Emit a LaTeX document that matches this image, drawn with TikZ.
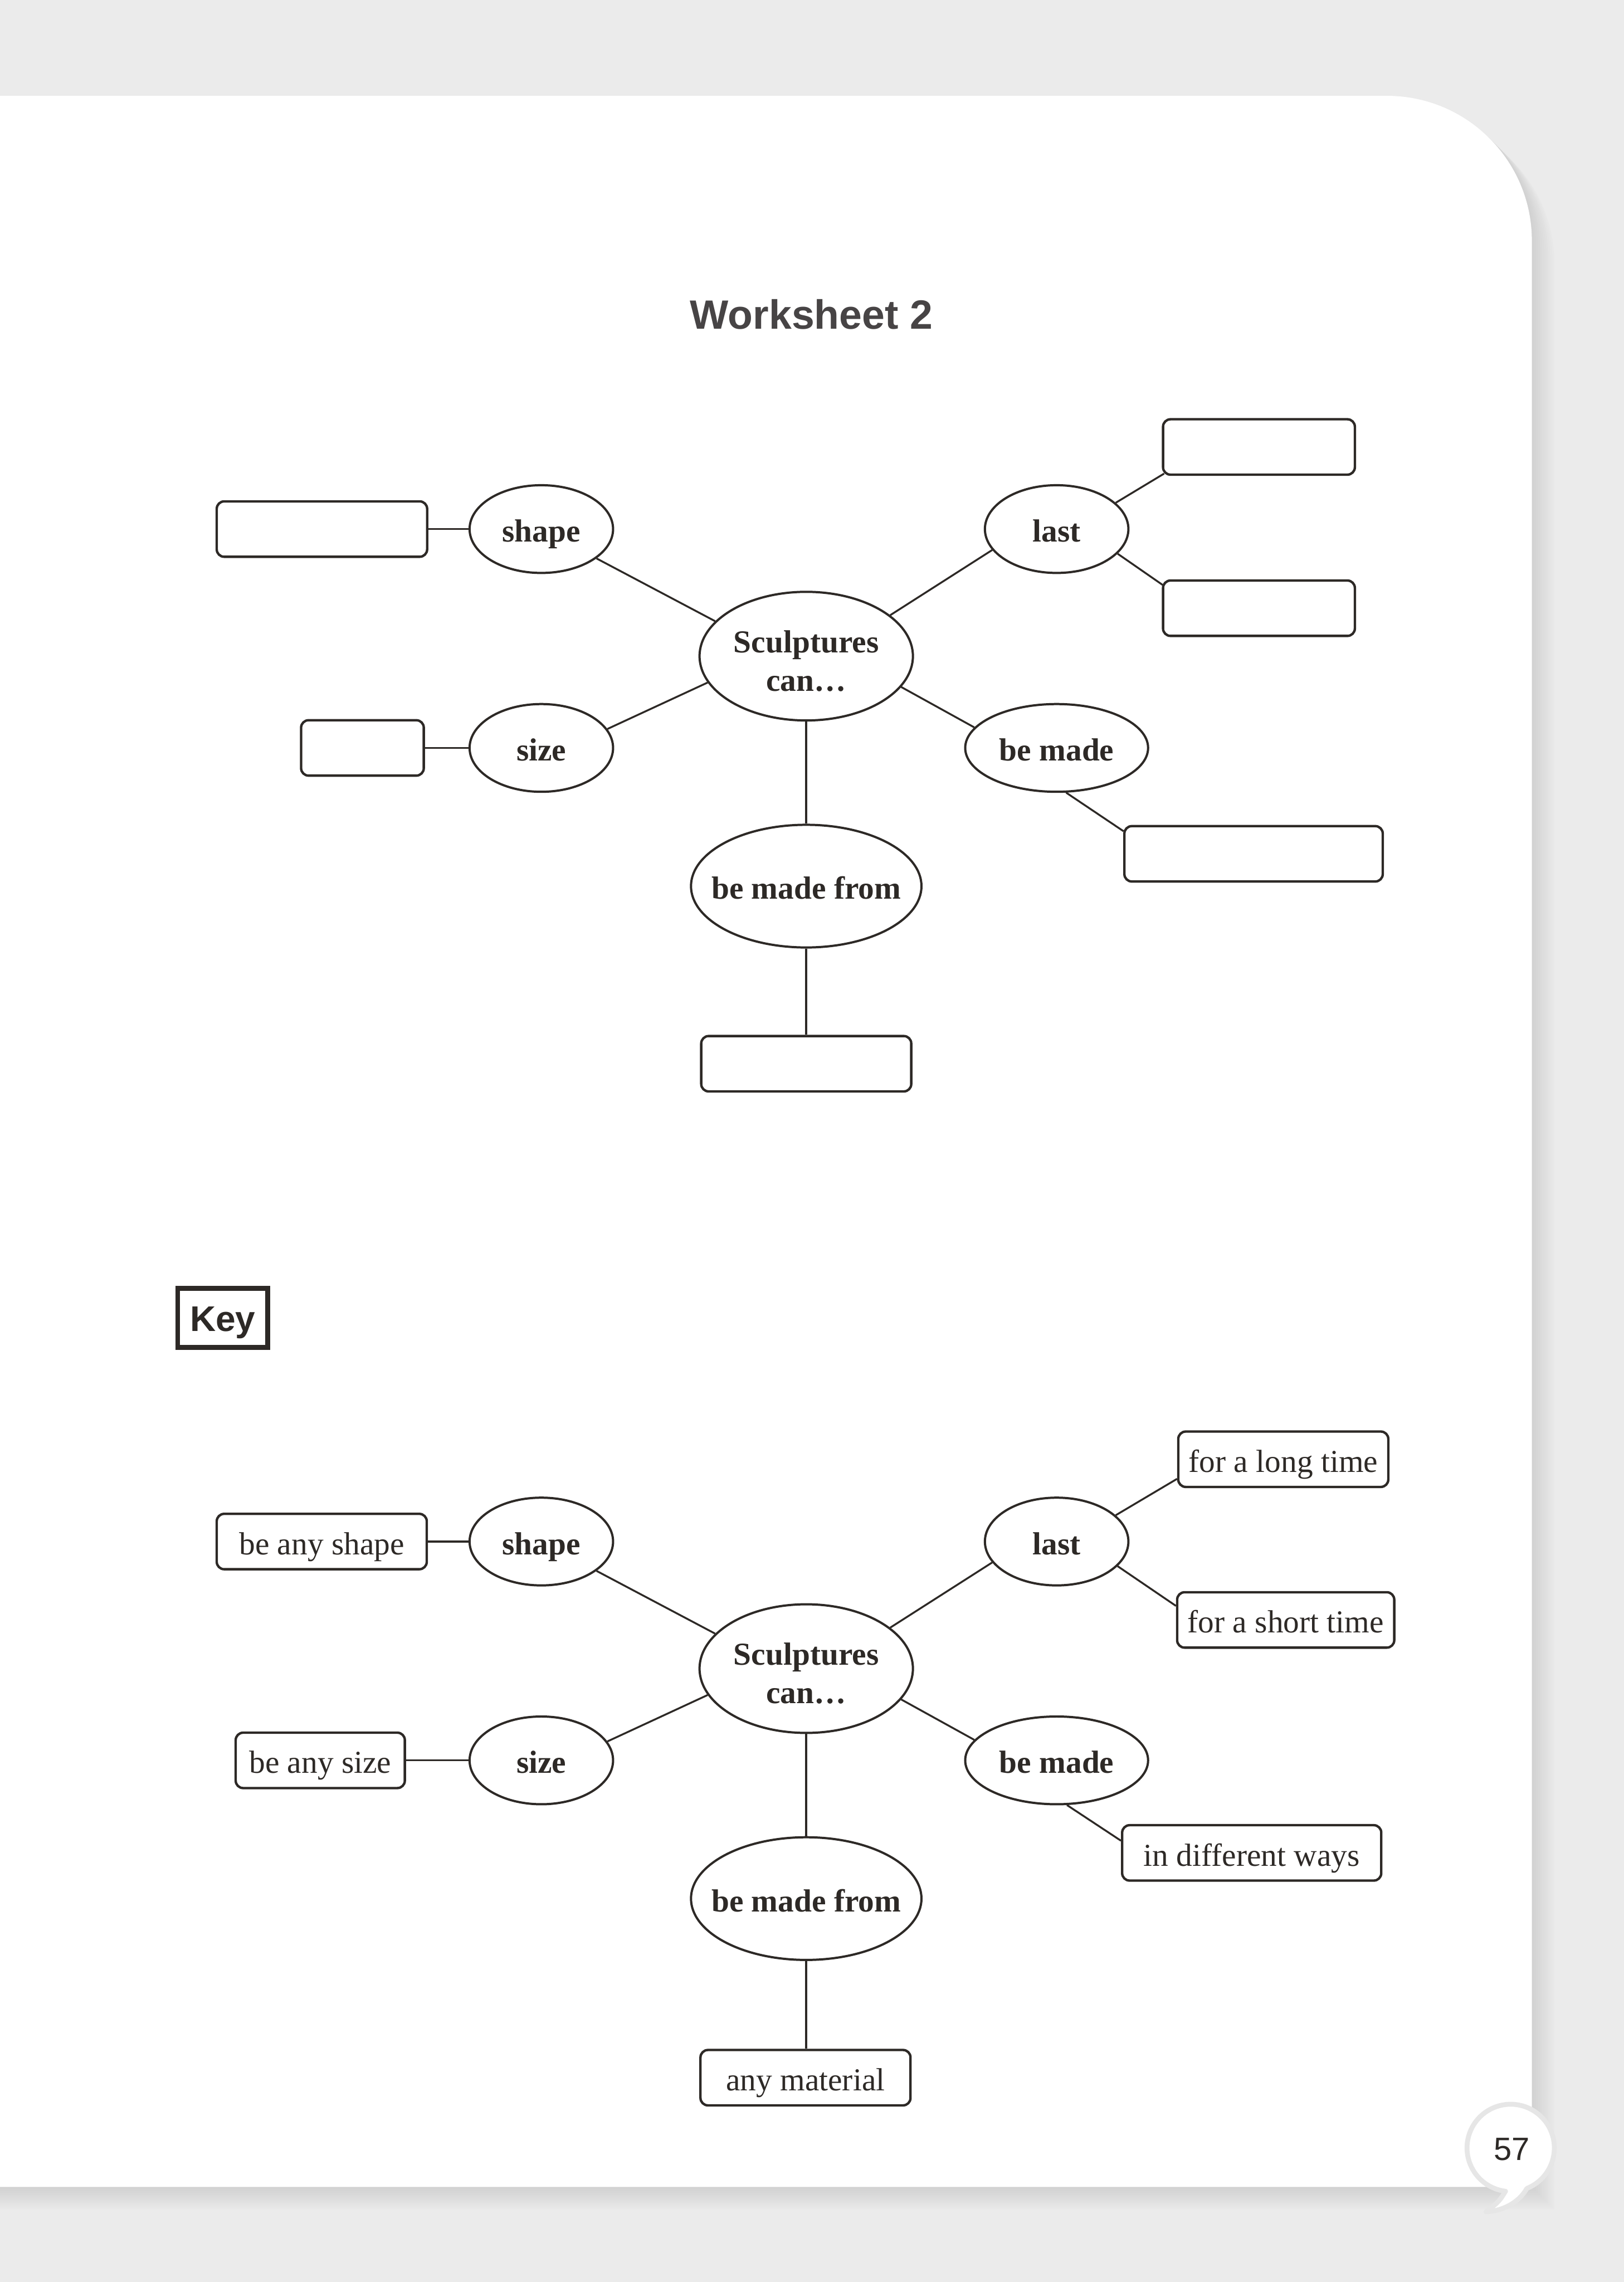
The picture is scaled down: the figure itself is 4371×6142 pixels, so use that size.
\documentclass[tikz,border=0pt]{standalone}
\usepackage{fontspec}
\setmainfont{Liberation Serif}
\newfontfamily\sansfont{Liberation Sans}
\usetikzlibrary{shapes.geometric,calc}
\definecolor{ink}{HTML}{2D2926}
\definecolor{pagebg}{HTML}{EBEBEB}
\definecolor{titlegray}{HTML}{474445}
\definecolor{bubblegray}{HTML}{E6E6E6}
\newcommand\nodesize{\fontsize{24.47pt}{29.5pt}\selectfont}
\begin{document}
\begin{tikzpicture}[x=0.01cm,y=-0.01cm,
  ell/.style={ellipse, draw=ink, line width=1.7pt, fill=white, inner sep=0pt,
    text=ink, font=\nodesize\bfseries, text height=21pt, text depth=1.2pt},
  smallell/.style={ell, minimum width=3.86cm, minimum height=2.36cm},
  bigell/.style={ell, minimum width=6.20cm, minimum height=3.30cm, inner xsep=-14pt},
  box/.style={rectangle, rounded corners=0.2cm, draw=ink, line width=1.85pt,
    fill=white, inner sep=0pt, minimum height=1.49cm, text=ink,
    font=\nodesize, text height=21pt, text depth=1.2pt},
  link/.style={draw=ink, line width=1.42pt},
]
\useasboundingbox (0,0) rectangle (4371,6142);
\clip (0,0) rectangle (4371,6142);
% background and page
\fill[pagebg] (0,0) rectangle (4371,6142);
\foreach \k in {12,...,1}{
  \pgfmathtruncatemacro\g{210+(\k-1)*25/11}
  \fill[fill={rgb,255:red,\g;green,\g;blue,\g}, shift={(\k*5.5,\k*5.5)}]
    (-100,258) -- (3733,258) arc[start angle=-90, end angle=0, radius=390]
    -- (4123,5886) -- (-100,5886) -- cycle;
}
\fill[white] (-100,258) -- (3733,258) arc[start angle=-90, end angle=0, radius=390]
    -- (4123,5886) -- (-100,5886) -- cycle;
% page number bubble
\path[fill=white, draw=bubblegray, line width=0.13cm, line join=round]
  (4066,5781) ++(68.2:117.5) arc[start angle=68.2, end angle=-263.2, radius=117.5]
  .. controls (4035,5925) .. (4000,5953)
  .. controls (4050,5950) and (4090,5925) .. (4109.6,5890.1) -- cycle;
\node[anchor=base, font=\sansfont\fontsize{24.7pt}{30pt}\selectfont, text=ink] (pagenum) at (4069,5814) {57};
% title
\node[anchor=base, font=\sansfont\bfseries\fontsize{31.3pt}{36pt}\selectfont, text=titlegray] (title) at (2184,885) {Worksheet 2};

% ---------------- worksheet diagram ----------------
\node[ell, minimum width=5.74cm, minimum height=3.46cm, text height=53.6pt, text depth=0pt] (c) at (2170,1766)
  {\begin{tabular}[b]{@{}c@{}}Sculptures\\can…\end{tabular}};
\node[smallell] (shape) at (1457,1424) {shape};
\node[smallell] (size) at (1457,2013) {size};
\node[smallell] (last) at (2844,1424) {last};
\node[ell, minimum width=4.92cm, minimum height=2.36cm] (bemade) at (2844,2013) {be made};
\node[bigell] (bmf) at (2170,2385) {be made from};

\node[box, minimum width=5.66cm] (shapebox) at (866.5,1424) {};
\node[box, minimum width=3.30cm] (sizebox) at (975.5,2013) {};
\node[box, minimum width=5.16cm] (lasttop) at (3388.5,1203) {};
\node[box, minimum width=5.16cm] (lastbot) at (3388.5,1637) {};
\node[box, minimum width=6.95cm] (bmbox) at (3374,2298) {};
\node[box, minimum width=5.65cm] (bmfbox) at (2170,2863) {};

\draw[link] (shapebox.east) -- (shape.west);
\draw[link] (shape.-28.2) -- (c.159.8);
\draw[link] (sizebox.east) -- (size.west);
\draw[link] (size.16.3) -- (c.195.1);
\draw[link] (last.198.3) -- (c.26.5);
\draw[link] (bemade.166.7) -- (c.-18.1);
\draw[link] (c.south) -- (bmf.north);
\draw[link] (bmf.south) -- (bmfbox.north);
\draw[link] (last.24.4) -- ($(lasttop.south west)+(6,-6)$);
\draw[link] (last.-22.6) -- ($(lastbot.north west)+(2,15)$);
\draw[link] (bemade.-78) -- ($(bmbox.north west)+(1,17)$);

% ---------------- key ----------------
\node[draw=ink, line width=3.7pt, minimum width=2.42cm, minimum height=1.59cm, inner sep=0pt,
  font=\sansfont\bfseries\fontsize{27.3pt}{32pt}\selectfont, text=ink,
  text height=20.5pt, text depth=0pt] (key) at (599.5,3547) {Key};

\node[ell, minimum width=5.74cm, minimum height=3.46cm, text height=53.6pt, text depth=0pt] (kc) at (2170,4491)
  {\begin{tabular}[b]{@{}c@{}}Sculptures\\can…\end{tabular}};
\node[smallell] (kshape) at (1457,4149) {shape};
\node[smallell] (ksize) at (1457,4738) {size};
\node[smallell] (klast) at (2844,4149) {last};
\node[ell, minimum width=4.92cm, minimum height=2.36cm] (kbemade) at (2844,4738) {be made};
\node[bigell] (kbmf) at (2170,5110) {be made from};

\node[box, minimum width=5.65cm] (kshapebox) at (866,4149) {be any shape};
\node[box, minimum width=4.55cm] (ksizebox) at (862,4738) {be any size};
\node[box, minimum width=5.65cm] (klong) at (3454,3927.5) {for a long time};
\node[box, minimum width=5.84cm] (kshort) at (3460.5,4360) {for a short time};
\node[box, minimum width=6.97cm] (kdiff) at (3369,4987) {in different ways};
\node[box, minimum width=5.65cm] (kmat) at (2168,5592) {any material};

\draw[link] (kshapebox.east) -- (kshape.west);
\draw[link] (kshape.-28.2) -- (kc.159.8);
\draw[link] (ksizebox.east) -- (ksize.west);
\draw[link] (ksize.16.3) -- (kc.195.1);
\draw[link] (klast.198.3) -- (kc.26.5);
\draw[link] (kbemade.166.7) -- (kc.-18.1);
\draw[link] (kc.south) -- (kbmf.north);
\draw[link] (kbmf.south) -- (kbmf.south |- kmat.north);
\draw[link] (klast.24.4) -- ($(klong.south west)+(0,-25)$);
\draw[link] (klast.-22.9) -- ($(kshort.north west)+(0,40)$);
\draw[link] (kbemade.-77) -- ($(kdiff.north west)+(0,45)$);
\end{tikzpicture}
\end{document}
